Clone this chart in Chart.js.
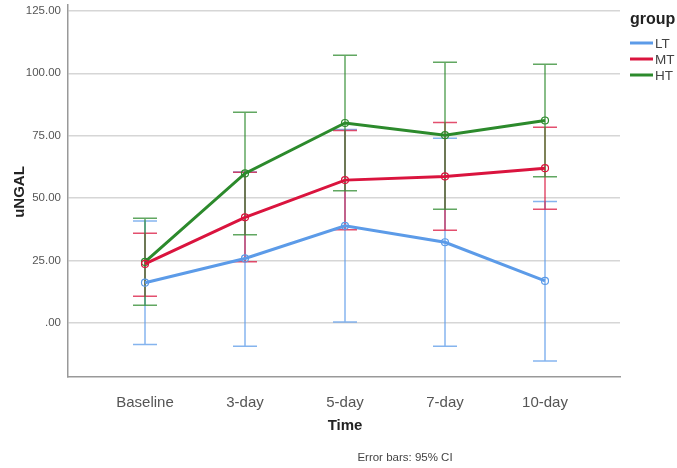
<!DOCTYPE html>
<html>
<head>
<meta charset="utf-8">
<script src="https://cdn.jsdelivr.net/npm/chart.js@4"></script>
<style>
  body { margin: 0; background: #fff; }
  #wrap { width: 677px; height: 468px; }
</style>
</head>
<body>
<div id="wrap"><canvas id="myChart" width="677" height="468"></canvas></div>
<script>
// data
var categories = ['Baseline', '3-day', '5-day', '7-day', '10-day'];
var groups = ['LT', 'MT', 'HT'];

var ltMean = [16.1, 25.8, 38.9, 32.3, 16.8];
var ltLow  = [-8.7, -9.4, 0.3, -9.4, -15.3];
var ltHigh = [40.8, 60.5, 77.5, 74.0, 48.6];

var mtMean = [23.6, 42.3, 57.2, 58.7, 62.0];
var mtLow  = [10.7, 24.5, 37.3, 37.1, 45.5];
var mtHigh = [35.9, 60.4, 77.1, 80.3, 78.4];

var htMean = [24.4, 59.9, 80.1, 75.2, 81.1];
var htLow  = [7.1, 35.3, 52.9, 45.5, 58.6];
var htHigh = [41.9, 84.4, 107.2, 104.4, 103.6];

var yTicks = [0, 25, 50, 75, 100, 125];
var yTickLabels = ['.00', '25.00', '50.00', '75.00', '100.00', '125.00'];

var lineColors = ['rgb(92,155,232)', 'rgb(218,20,62)', 'rgb(44,138,44)'];
var barColors = ['rgba(92,155,232,0.75)', 'rgba(218,20,62,0.75)', 'rgba(44,138,44,0.75)'];

var means = [ltMean, mtMean, htMean];
var lows = [ltLow, mtLow, htLow];
var highs = [ltHigh, mtHigh, htHigh];

var FONT = '"Liberation Sans", Arial, sans-serif';

function points(arr) {
	return arr.map(function(v, k) { return { x: k, y: v }; });
}

// error bars drawn under the lines
var errorBars = {
	id: 'errorBars',
	beforeDatasetsDraw: function(chart) {
		var ctx = chart.ctx;
		var xs = chart.scales.x, ys = chart.scales.y;
		ctx.save();
		ctx.lineWidth = 1.5;
		for (var i = 0; i < groups.length; i++) {
			ctx.strokeStyle = barColors[i];
			for (var k = 0; k < categories.length; k++) {
				var x = xs.getPixelForValue(k);
				var y1 = ys.getPixelForValue(lows[i][k]);
				var y2 = ys.getPixelForValue(highs[i][k]);
				ctx.beginPath();
				ctx.moveTo(x, y1); ctx.lineTo(x, y2);
				ctx.moveTo(x - 12, y1); ctx.lineTo(x + 12, y1);
				ctx.moveTo(x - 12, y2); ctx.lineTo(x + 12, y2);
				ctx.stroke();
			}
		}
		ctx.restore();
	}
};

// titles, footnote and legend
var labels = {
	id: 'labels',
	afterDraw: function(chart) {
		var ctx = chart.ctx;
		ctx.save();
		ctx.fillStyle = '#222';
		ctx.font = 'bold 15px ' + FONT;
		ctx.textAlign = 'center';
		ctx.textBaseline = 'middle';
		ctx.fillText('Time', 345, 426);

		ctx.save();
		ctx.translate(20, 192);
		ctx.rotate(-Math.PI / 2);
		ctx.fillText('uNGAL', 0, 0);
		ctx.restore();

		ctx.font = '11.5px ' + FONT;
		ctx.fillStyle = '#444';
		ctx.fillText('Error bars: 95% CI', 405, 458);

		ctx.textAlign = 'left';
		ctx.font = 'bold 16px ' + FONT;
		ctx.fillStyle = '#222';
		ctx.fillText('group', 630, 20);
		ctx.font = '13.5px ' + FONT;
		ctx.fillStyle = '#444';
		for (var i = 0; i < groups.length; i++) {
			var y = 43 + i * 16;
			ctx.strokeStyle = lineColors[i];
			ctx.lineWidth = 3;
			ctx.beginPath();
			ctx.moveTo(630, y); ctx.lineTo(653, y);
			ctx.stroke();
			ctx.fillText(groups[i], 655, y + 1);
		}
		ctx.restore();
	}
};

function noPad(scale) {
	scale.paddingTop = 0;
	scale.paddingBottom = 0;
	scale.paddingLeft = 0;
	scale.paddingRight = 0;
}

var ctx = document.getElementById('myChart').getContext('2d');
var chart = new Chart(ctx, {
	type: 'line',
	data: {
		datasets: groups.map(function(g, i) {
			return {
				label: g,
				data: points(means[i]),
				borderColor: lineColors[i],
				borderWidth: 3,
				pointRadius: 3.5,
				pointBorderWidth: 1.2,
				pointBorderColor: lineColors[i],
				pointBackgroundColor: 'rgba(255,255,255,0)',
				tension: 0
			};
		})
	},
	options: {
		responsive: false,
		animation: false,
		layout: { padding: { left: 0, top: 0, right: 57, bottom: 0 } },
		plugins: {
			legend: { display: false },
			tooltip: { enabled: false }
		},
		scales: {
			x: {
				type: 'linear',
				min: -0.77,
				max: 4.75,
				afterBuildTicks: function(axis) {
					axis.ticks = categories.map(function(c, k) { return { value: k }; });
				},
				afterFit: function(scale) { scale.height = 91; noPad(scale); },
				grid: { display: false },
				border: { display: true, color: '#999', width: 1.5 },
				ticks: {
					padding: 9,
					color: '#555',
					font: { family: FONT, size: 15 },
					maxRotation: 0,
					callback: function(value) { return categories[value]; }
				}
			},
			y: {
				min: -21.7,
				max: 127.3,
				afterBuildTicks: function(axis) {
					axis.ticks = yTicks.map(function(v) { return { value: v }; });
				},
				afterFit: function(scale) { scale.width = 68; noPad(scale); },
				grid: { color: '#d6d6d6', lineWidth: 1.5, drawTicks: false },
				border: { display: true, color: '#999', width: 1.5 },
				ticks: {
					padding: 7,
					color: '#555',
					font: { family: FONT, size: 11.5 },
					callback: function(value) { return yTickLabels[yTicks.indexOf(value)]; }
				}
			}
		}
	},
	plugins: [errorBars, labels]
});
</script>
</body>
</html>
